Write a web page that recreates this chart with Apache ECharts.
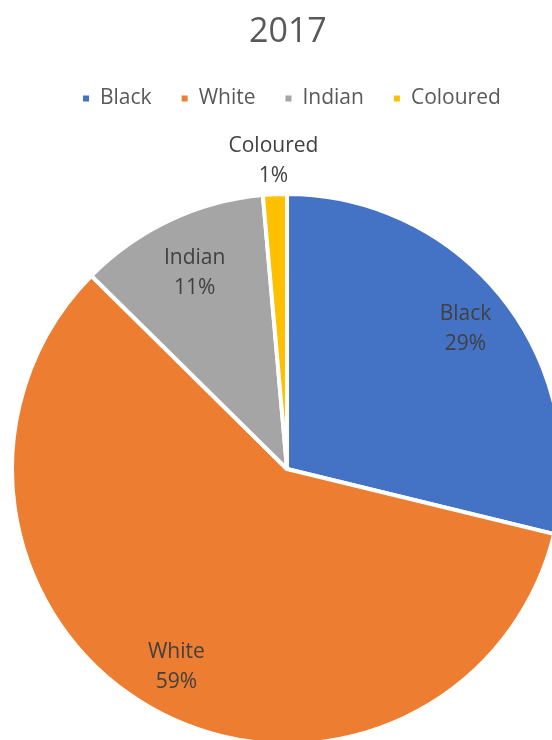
<!DOCTYPE html>
<html>
<head>
<meta charset="utf-8">
<script src="https://cdn.jsdelivr.net/npm/echarts@6/dist/echarts.min.js"></script>
<style>
  html, body { margin: 0; padding: 0; background: #fff; }
  #chart { width: 552px; height: 740px; }
</style>
</head>
<body>
<div id="chart"></div>
<script>
// Population share by group, 2017
const titleText = '2017';
const groups = ['Black', 'White', 'Indian', 'Coloured'];
const shares = [28.8, 58.6, 11.2, 1.4];
const colors = ['#4472C4', '#ED7D31', '#A5A5A5', '#FFC000'];

const FONT = '"Open Sans", "Liberation Sans", sans-serif';
const CENTER = [287, 469];
const pieData = groups.map((name, i) => ({ name, value: shares[i] }));

const labelStyle = {
  show: true,
  position: 'inside',
  formatter: '{b}\n{d}%',
  color: '#404040',
  fontFamily: FONT,
  fontSize: 21,
  lineHeight: 30
};

// Transparent ring used only to carry labels at a chosen radius
function labelRing(radius, shown) {
  return {
    type: 'pie',
    center: CENTER,
    radius: radius,
    startAngle: 90,
    clockwise: true,
    silent: true,
    animation: false,
    percentPrecision: 0,
    avoidLabelOverlap: false,
    labelLine: { show: false },
    emphasis: { disabled: true },
    itemStyle: { color: 'rgba(0,0,0,0)', borderWidth: 0 },
    data: pieData.map(d => ({
      name: d.name,
      value: d.value,
      label: Object.assign({}, labelStyle, { show: shown.includes(d.name) })
    }))
  };
}

const chart = echarts.init(document.getElementById('chart'), null, { renderer: 'canvas' });
chart.setOption({
  animation: false,
  color: colors,
  title: {
    text: titleText,
    left: 244,
    top: 10,
    textStyle: { fontFamily: FONT, fontSize: 34, fontWeight: 'normal', color: '#595959' }
  },
  legend: {
    data: groups,
    left: 76,
    top: 83,
    icon: 'rect',
    itemWidth: 8,
    itemHeight: 8,
    itemGap: 28,
    textStyle: { fontFamily: FONT, fontSize: 21, color: '#595959', padding: [0, 0, 0, 5] }
  },
  series: [
    {
      type: 'pie',
      center: CENTER,
      radius: [0, 275],
      startAngle: 90,
      clockwise: true,
      animation: false,
      percentPrecision: 0,
      label: { show: false },
      labelLine: { show: false },
      emphasis: { disabled: true },
      itemStyle: { borderColor: '#ffffff', borderWidth: 4 },
      data: pieData
    },
    labelRing([180, 268], ['Black', 'White']),
    labelRing([170, 258], ['Indian']),
    labelRing([285, 325], ['Coloured'])
  ]
});
</script>
</body>
</html>
